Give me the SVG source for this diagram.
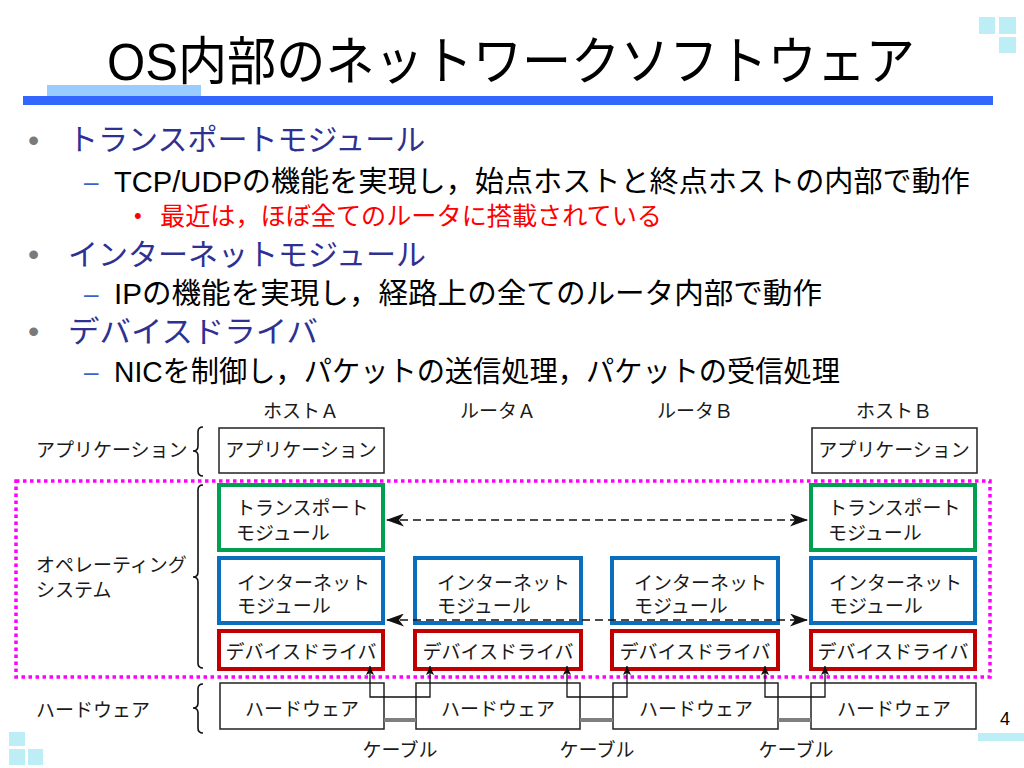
<svg xmlns="http://www.w3.org/2000/svg" width="1024" height="768" viewBox="0 0 1024 768">
<style>
text{font-family:"Liberation Sans","Noto Sans CJK JP",sans-serif;}
.t{font-size:19px;fill:#1a1a1a;}
.c{text-anchor:middle;}
.app{fill:#fff;stroke:#222;stroke-width:1.5;}
.hw{fill:#fff;stroke:#222;stroke-width:1.5;}
.tr{fill:#fff;stroke:#00a050;stroke-width:4;}
.ip{fill:#fff;stroke:#0a6ebd;stroke-width:4;}
.dd{fill:#fff;stroke:#c00000;stroke-width:4;}
.dash{stroke:#111;stroke-width:1.6;stroke-dasharray:8 5;fill:none;}
.u{stroke:#111;stroke-width:1.3;fill:none;}
.cable{stroke:#7f7f7f;stroke-width:4;}
.br{stroke:#111;stroke-width:1.6;fill:none;}
.deco{fill:#bdeef5;}
.h1{font-size:30px;fill:#2e3192;}
.h2{font-size:29px;fill:#000;}
.bul{fill:#7a7a7a;font-size:32px;}
.dsh{fill:#3c64c8;font-size:26px;}
</style>
<defs>
<marker id="ah" viewBox="0 0 18 13" refX="17" refY="6.5" markerWidth="18" markerHeight="13" orient="auto-start-reverse" markerUnits="userSpaceOnUse"><path d="M0,0 L18,6.5 L0,13 L5,6.5 z" fill="#111"/></marker>
<marker id="as" viewBox="0 0 9 8" refX="9" refY="4" markerWidth="9" markerHeight="8" orient="auto-start-reverse" markerUnits="userSpaceOnUse"><path d="M0,0 L9,4 L0,8 L2,4 z" fill="#111"/></marker>
</defs>
<rect width="1024" height="768" fill="#fff"/>

<g id="decoration">
<rect class="deco" x="979" y="17" width="16" height="17"/>
<rect class="deco" x="999" y="17" width="17" height="17"/>
<rect class="deco" x="999" y="37" width="17" height="16"/>
<rect class="deco" x="9" y="732" width="16" height="14"/>
<rect class="deco" x="9" y="749" width="16" height="16"/>
<rect class="deco" x="28" y="749" width="15" height="16"/>
<rect class="deco" x="978" y="733" width="46" height="8"/>
<rect x="47" y="85" width="154" height="11" fill="#99ccff"/>
<rect x="23" y="96" width="970" height="9" fill="#3366ff"/>
</g>

<g id="title">
<text x="107" y="80" font-size="52" fill="#000" textLength="808" lengthAdjust="spacingAndGlyphs">OS内部のネットワークソフトウェア</text>
</g>

<g id="bullets">
<text class="bul" x="28" y="151">•</text>
<text class="h1" x="68" y="150">トランスポートモジュール</text>
<text class="dsh" x="84" y="191">–</text>
<text class="h2" x="114" y="192" textLength="856" lengthAdjust="spacingAndGlyphs">TCP/UDPの機能を実現し，始点ホストと終点ホストの内部で動作</text>
<text x="134" y="223" font-size="22" fill="#ff0000">•</text>
<text x="160" y="225" font-size="25" fill="#ff0000" textLength="502" lengthAdjust="spacingAndGlyphs">最近は，ほぼ全てのルータに搭載されている</text>
<text class="bul" x="28" y="265">•</text>
<text class="h1" x="68" y="265">インターネットモジュール</text>
<text class="dsh" x="84" y="303">–</text>
<text class="h2" x="114" y="304" textLength="708" lengthAdjust="spacingAndGlyphs">IPの機能を実現し，経路上の全てのルータ内部で動作</text>
<text class="bul" x="28" y="342">•</text>
<text class="h1" x="68" y="342" textLength="250" lengthAdjust="spacingAndGlyphs">デバイスドライバ</text>
<text class="dsh" x="84" y="381">–</text>
<text class="h2" x="114" y="382" textLength="726" lengthAdjust="spacingAndGlyphs">NICを制御し，パケットの送信処理，パケットの受信処理</text>
</g>

<g id="headers">
<text class="t c" x="301" y="418">ホストＡ</text>
<text class="t c" x="498" y="418">ルータＡ</text>
<text class="t c" x="695" y="418">ルータＢ</text>
<text class="t c" x="894" y="418">ホストＢ</text>
</g>

<g id="layer-labels">
<text class="t" x="36" y="457">アプリケーション</text>
<text class="t" x="36" y="572">オペレーティング</text>
<text class="t" x="36" y="597">システム</text>
<text class="t" x="36" y="717">ハードウェア</text>
<path class="br" d="M203,427 Q198,427 198,432 L198,446 Q198,451 193,451 Q198,451 198,456 L198,471 Q198,476 203,476"/>
<path class="br" d="M203,485 Q198,485 198,490 L198,572 Q198,577 193,577 Q198,577 198,582 L198,663 Q198,668 203,668"/>
<path class="br" d="M203,684 Q198,684 198,689 L198,703 Q198,708 193,708 Q198,708 198,713 L198,728 Q198,733 203,733"/>
</g>

<g id="os-region">
<rect x="16" y="481" width="974" height="196" fill="none" stroke="#ff00ff" stroke-width="3.5" stroke-dasharray="3.5 3.5"/>
</g>

<g id="hostA">
<rect class="app" x="219" y="428" width="165" height="45"/>
<text class="t c" x="301" y="457">アプリケーション</text>
<rect class="tr" x="219" y="485" width="164" height="65"/>
<text class="t" x="236" y="515">トランスポート</text>
<text class="t" x="236" y="540">モジュール</text>
<rect class="ip" x="219" y="558" width="164" height="65"/>
<text class="t" x="237" y="590">インターネット</text>
<text class="t" x="237" y="613">モジュール</text>
<rect class="dd" x="219" y="631" width="164" height="38"/>
<text class="t c" x="301" y="659">デバイスドライバ</text>
<rect class="hw" x="220" y="683" width="164" height="46"/>
<text class="t c" x="302" y="716">ハードウェア</text>
</g>

<g id="routerA">
<rect class="ip" x="415" y="558" width="166" height="65"/>
<text class="t" x="437" y="590">インターネット</text>
<text class="t" x="437" y="613">モジュール</text>
<rect class="dd" x="415" y="631" width="166" height="38"/>
<text class="t c" x="498" y="659">デバイスドライバ</text>
<rect class="hw" x="416" y="683" width="164" height="46"/>
<text class="t c" x="498" y="716">ハードウェア</text>
</g>

<g id="routerB">
<rect class="ip" x="612" y="558" width="166" height="65"/>
<text class="t" x="634" y="590">インターネット</text>
<text class="t" x="634" y="613">モジュール</text>
<rect class="dd" x="612" y="631" width="166" height="38"/>
<text class="t c" x="695" y="659">デバイスドライバ</text>
<rect class="hw" x="613" y="683" width="165" height="46"/>
<text class="t c" x="696" y="716">ハードウェア</text>
</g>

<g id="hostB">
<rect class="app" x="812" y="428" width="165" height="45"/>
<text class="t c" x="894" y="457">アプリケーション</text>
<rect class="tr" x="811" y="485" width="164" height="65"/>
<text class="t" x="828" y="515">トランスポート</text>
<text class="t" x="828" y="540">モジュール</text>
<rect class="ip" x="811" y="558" width="164" height="65"/>
<text class="t" x="829" y="590">インターネット</text>
<text class="t" x="829" y="613">モジュール</text>
<rect class="dd" x="811" y="631" width="164" height="38"/>
<text class="t c" x="893" y="659">デバイスドライバ</text>
<rect class="hw" x="811" y="683" width="165" height="46"/>
<text class="t c" x="894" y="716">ハードウェア</text>
</g>

<g id="connectors">
<line class="dash" x1="387" y1="520" x2="807" y2="520" marker-start="url(#ah)" marker-end="url(#ah)"/>
<line class="dash" x1="387" y1="620" x2="807" y2="620" marker-start="url(#ah)" marker-end="url(#ah)"/>
<path class="u" d="M370,666 L370,697 L430,697 L430,666" marker-start="url(#as)" marker-end="url(#as)"/>
<path class="u" d="M567,666 L567,697 L627,697 L627,666" marker-start="url(#as)" marker-end="url(#as)"/>
<path class="u" d="M765,666 L765,697 L825,697 L825,666" marker-start="url(#as)" marker-end="url(#as)"/>
<line class="cable" x1="384" y1="720" x2="416" y2="720"/>
<line class="cable" x1="580" y1="720" x2="613" y2="720"/>
<line class="cable" x1="778" y1="720" x2="811" y2="720"/>
</g>

<g id="cable-labels">
<text class="t c" x="400" y="757">ケーブル</text>
<text class="t c" x="597" y="757">ケーブル</text>
<text class="t c" x="796" y="757">ケーブル</text>
</g>

<text x="1000" y="725" font-size="18" fill="#000">4</text>
</svg>
